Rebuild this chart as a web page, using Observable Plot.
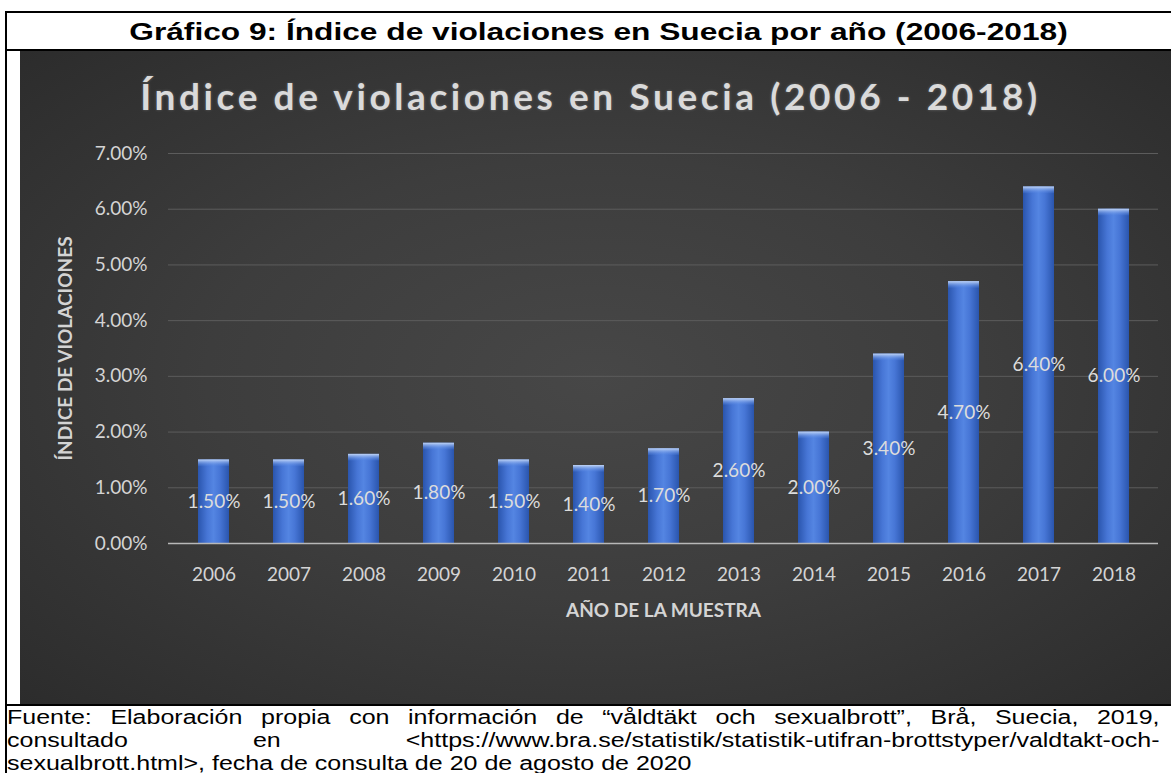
<!DOCTYPE html>
<html><head><meta charset="utf-8">
<script src="https://cdn.jsdelivr.net/npm/d3@7"></script>
<script src="https://cdn.jsdelivr.net/npm/@observablehq/plot@0.6"></script>
<style>
body{margin:0;background:#fff;width:1171px;height:773px;overflow:hidden;position:relative;font-family:"Liberation Sans",Arial,sans-serif;}
.ln{position:absolute;background:#000;}
#outerTitle{position:absolute;left:7px;top:13px;width:1182px;height:36px;line-height:37px;text-align:center;font-weight:bold;font-size:24px;color:#000;white-space:nowrap;}
#outerTitle span{display:inline-block;transform:scaleX(1.32);}
#dark{position:absolute;left:20px;top:51px;width:1151px;height:653px;overflow:hidden;
 background:radial-gradient(ellipse 75% 75% at 50% 50%, #474747 0%, #3d3d3d 45%, #2a2a2a 100%);}
#chartTitle{height:85px;box-sizing:border-box;padding-top:24px;padding-right:10px;text-align:center;font-family:Lato,sans-serif;font-weight:700;font-size:37px;line-height:42px;letter-spacing:3.6px;color:#dadada;white-space:nowrap;text-shadow:0 0 3px rgba(255,255,255,0.25);}
#chart svg{display:block;}
#caption{position:absolute;left:7px;top:706px;width:922px;transform-origin:0 0;transform:scaleX(1.25);font-size:20px;line-height:23px;color:#000;}
#caption .j{text-align:justify;text-align-last:justify;}
</style></head>
<body>
<div class="ln" style="left:5px;top:11px;width:1185px;height:2px"></div>
<div class="ln" style="left:5px;top:11px;width:2px;height:800px"></div>
<div class="ln" style="left:5px;top:49px;width:1185px;height:2px"></div>
<div id="outerTitle"><span>Gráfico 9: Índice de violaciones en Suecia por año (2006-2018)</span></div>
<div id="dark">
  <div id="chartTitle">Índice de violaciones en Suecia (2006 - 2018)</div>
  <div id="chart"></div>
</div>
<div class="ln" style="left:5px;top:704px;width:1185px;height:2px"></div>
<div id="caption">
  <div class="j">Fuente: Elaboración propia con información de “våldtäkt och sexualbrott”, Brå, Suecia, 2019,</div>
  <div class="j">consultado en &lt;https://www.bra.se/statistik/statistik-utifran-brottstyper/valdtakt-och-</div>
  <div>sexualbrott.html&gt;, fecha de consulta de 20 de agosto de 2020</div>
</div>
<script>
const years = ["2006","2007","2008","2009","2010","2011","2012","2013","2014","2015","2016","2017","2018"];
const rates = [1.5, 1.5, 1.6, 1.8, 1.5, 1.4, 1.7, 2.6, 2.0, 3.4, 4.7, 6.4, 6.0];
const yTicks = [0, 1, 2, 3, 4, 5, 6, 7];
const xTitle = "AÑO DE LA MUESTRA";
const yTitle = "ÍNDICE DE VIOLACIONES";

const data = years.map((year, i) => ({year, rate: rates[i]}));
const pct = v => v.toFixed(2) + "%";

const chart = Plot.plot({
  width: 1151,
  height: 568,
  marginTop: 17,
  marginBottom: 161,
  marginLeft: 148,
  marginRight: 13,
  style: {background: "transparent", fontFamily: "Lato, sans-serif", color: "#d4d4d4", overflow: "visible"},
  x: {domain: years, paddingInner: 0.59, paddingOuter: 0.32, label: null},
  y: {domain: [0, 7], label: null},
  marks: [
    Plot.gridY(yTicks.filter(t => t > 0), {stroke: "#5c5c5c", strokeOpacity: 1, strokeWidth: 1}),
    Plot.barY(data, {x: "year", y: "rate", fill: "url(#barGrad)"}),
    Plot.barY(data, {x: "year", y1: d => d.rate - 0.12, y2: "rate", fill: "url(#capGrad)"}),
    Plot.ruleY([0], {stroke: "#b8b8b8", strokeWidth: 1.5}),
    Plot.axisY({ticks: yTicks, tickSize: 0, tickPadding: 21, tickFormat: pct, fontSize: 19, label: null}),
    Plot.axisX({tickSize: 0, tickPadding: 24, fontSize: 19, label: null}),
    Plot.text(data, {x: "year", y: d => d.rate / 2, text: d => pct(d.rate), fill: "#dcdcdc", fontSize: 19}),
    Plot.text([xTitle], {text: d => d, frameAnchor: "bottom", dy: 67, lineAnchor: "middle", textAnchor: "middle", fontWeight: "bold", fontSize: 19, fill: "#d4d4d4"}),
    Plot.text([yTitle], {text: d => d, frameAnchor: "left", dx: -103, rotate: -90, lineAnchor: "middle", textAnchor: "middle", fontWeight: "bold", fontSize: 19, fill: "#d4d4d4"})
  ]
});

d3.select(chart).insert("defs", ":first-child").html(`
  <linearGradient id="barGrad" x1="0" y1="0" x2="1" y2="0">
    <stop offset="0%" stop-color="#2a55ad"/>
    <stop offset="30%" stop-color="#4776d6"/>
    <stop offset="50%" stop-color="#5485e2"/>
    <stop offset="70%" stop-color="#4776d6"/>
    <stop offset="100%" stop-color="#2a55ad"/>
  </linearGradient>
  <linearGradient id="capGrad" x1="0" y1="0" x2="0" y2="1">
    <stop offset="0%" stop-color="#c2d6f7"/>
    <stop offset="100%" stop-color="#5485e2" stop-opacity="0.2"/>
  </linearGradient>`);

document.getElementById("chart").appendChild(chart);
</script>
</body></html>
